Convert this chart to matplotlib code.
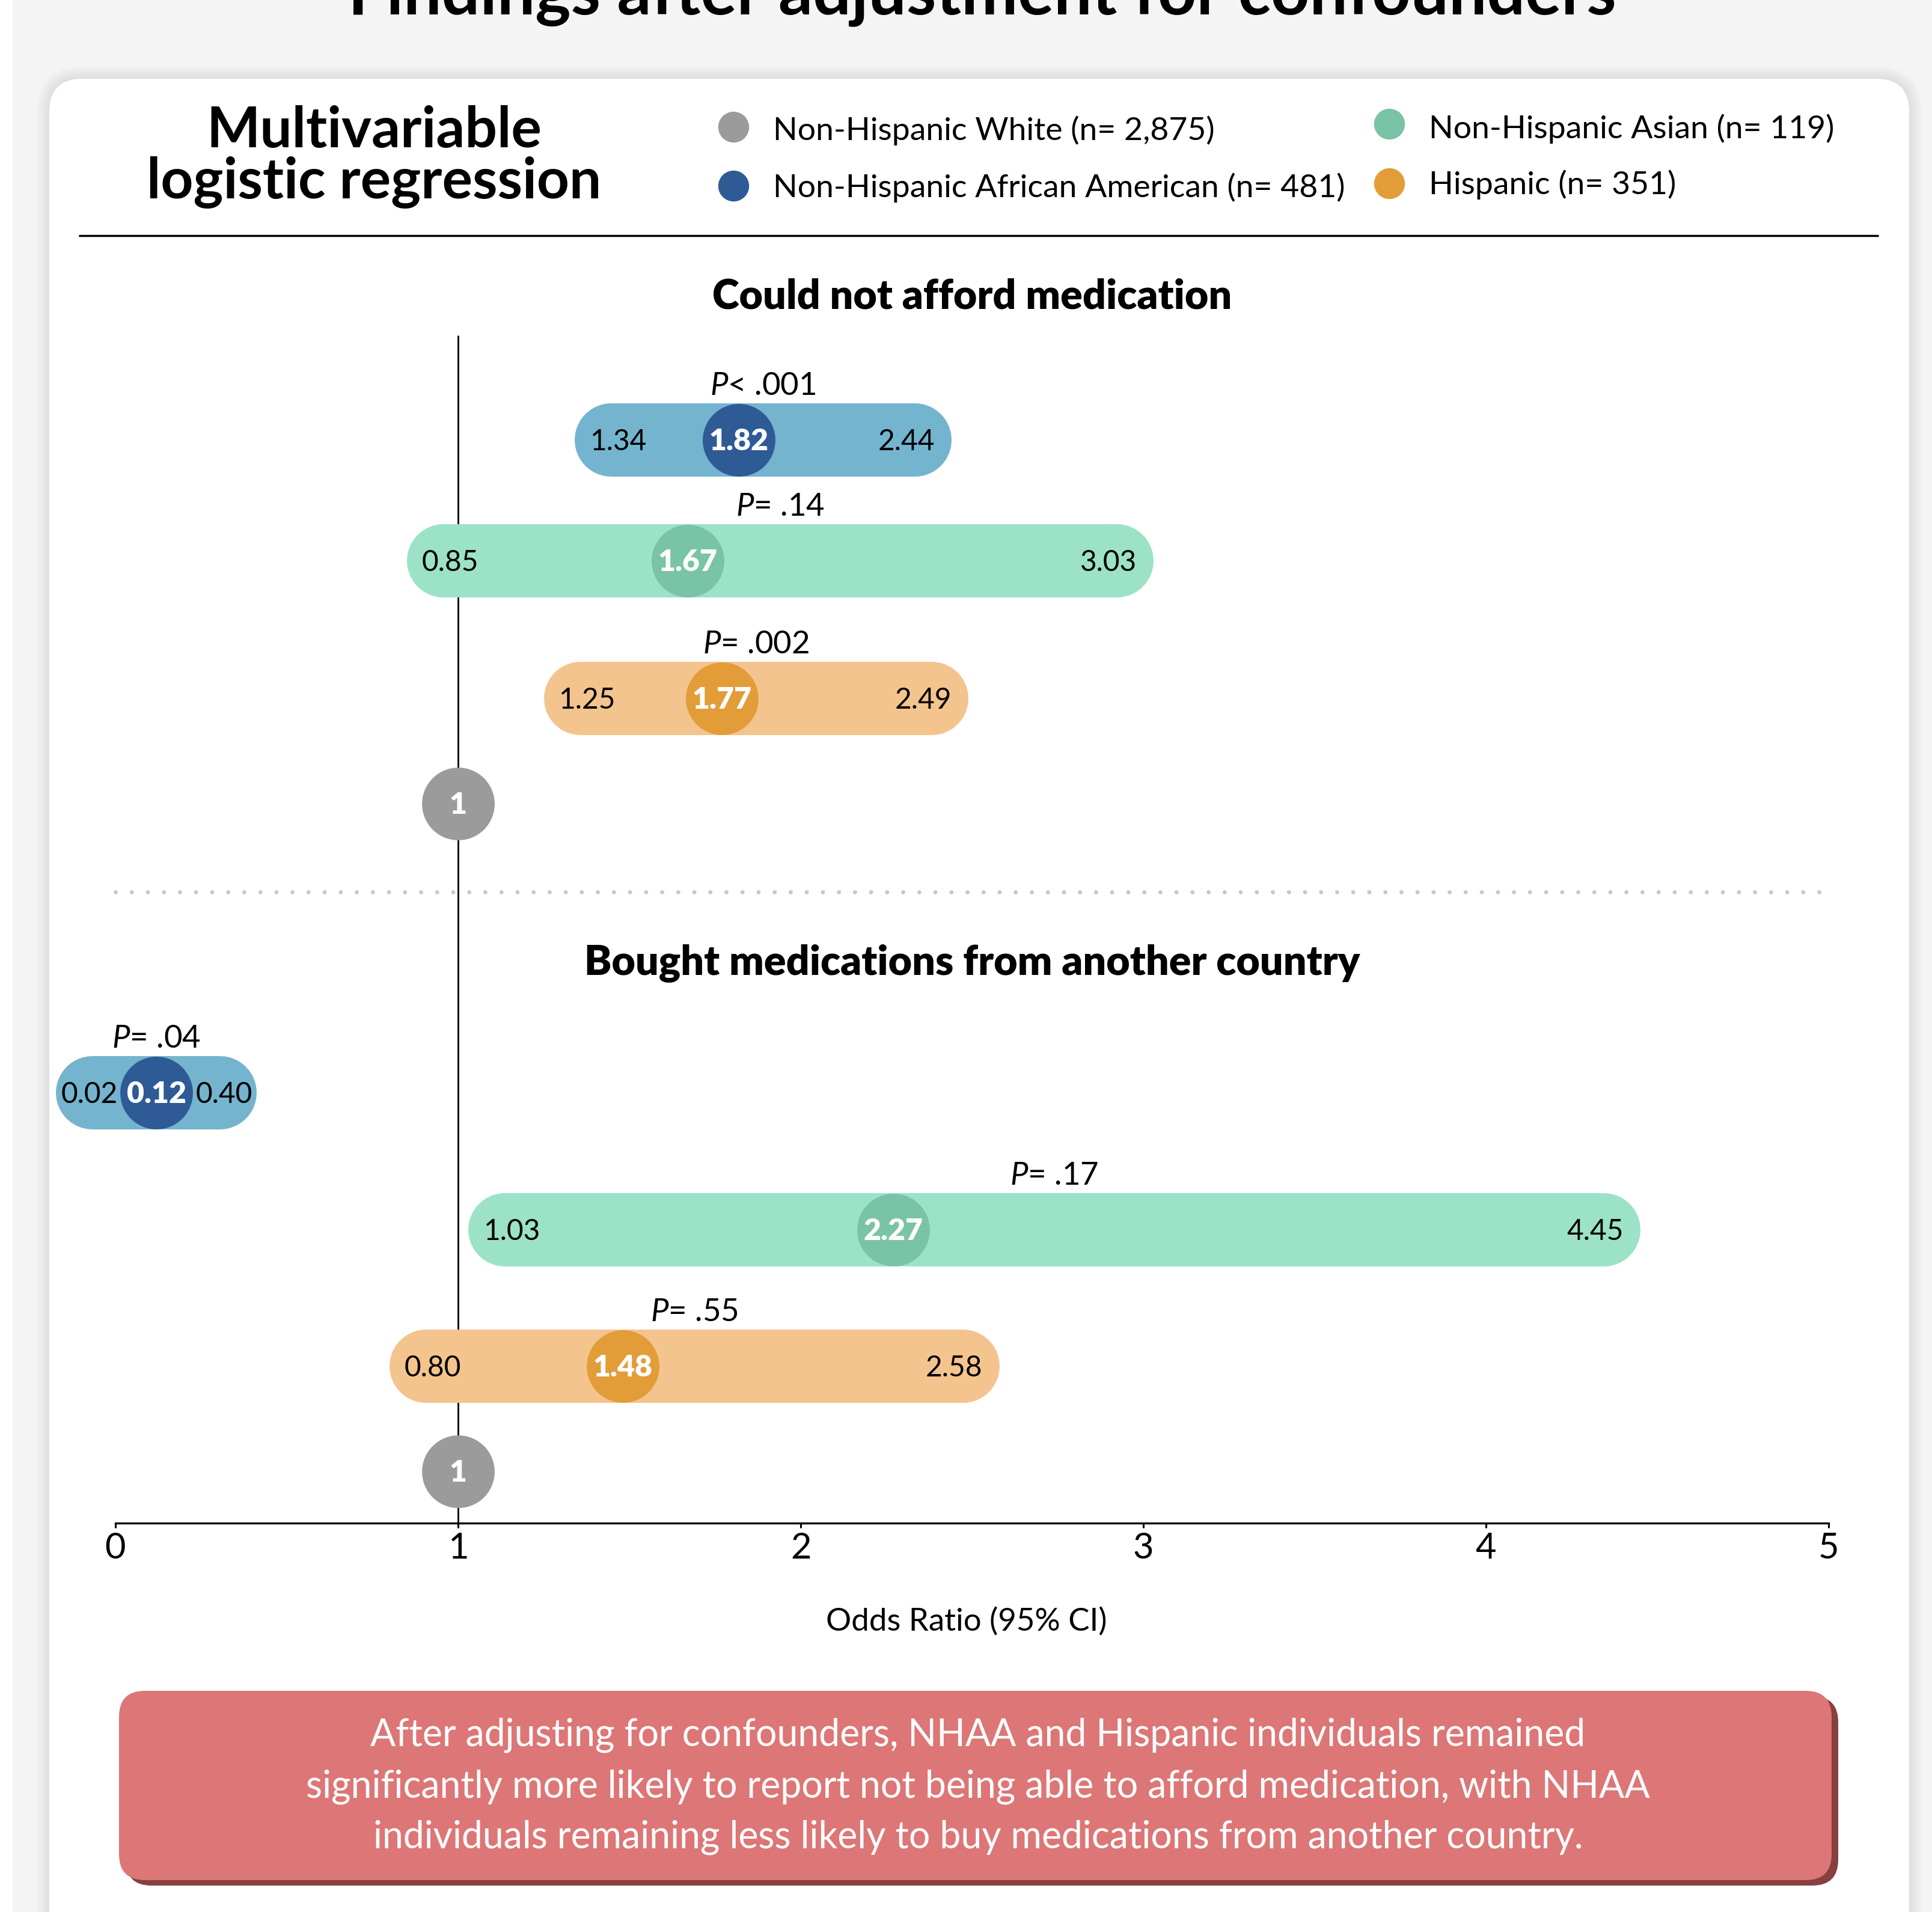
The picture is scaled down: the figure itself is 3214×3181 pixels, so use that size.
import numpy as np
import matplotlib
matplotlib.use("Agg")
import matplotlib.pyplot as plt
from matplotlib.patches import FancyBboxPatch, Rectangle

plt.rcParams['font.family'] = ['Lato', 'DejaVu Sans']
plt.rcParams['mathtext.fontset'] = 'custom'
plt.rcParams['mathtext.it'] = 'Lato:italic'
plt.rcParams['mathtext.rm'] = 'Lato'

W, H, DPI = 3214, 3181, 100

# ---- data ----
groups = ['Non-Hispanic White', 'Non-Hispanic African American',
          'Non-Hispanic Asian', 'Hispanic']
group_n = ['2,875', '481', '119', '351']
panels = ['Could not afford medication', 'Bought medications from another country']

# rows: NHAA, Asian, Hispanic  (reference = Non-Hispanic White, OR 1)
afford_or = [1.82, 1.67, 1.77]
afford_lo = [1.34, 0.85, 1.25]
afford_hi = [2.44, 3.03, 2.49]
afford_p = ['< .001', '= .14', '= .002']

abroad_or = [0.12, 2.27, 1.48]
abroad_lo = [0.02, 1.03, 0.80]
abroad_hi = [0.40, 4.45, 2.58]
abroad_p = ['= .04', '= .17', '= .55']

ref_or = 1
x_ticks = [0, 1, 2, 3, 4, 5]

summary = ["After adjusting for confounders, NHAA and Hispanic individuals remained",
           "significantly more likely to report not being able to afford medication, with NHAA",
           "individuals remaining less likely to buy medications from another country."]

# ---- styles ----
dot_cols = ['#9B9B9B', '#2E5A96', '#79C3A6', '#E39D38']
pill_cols = ['#74B4CE', '#9CE2C6', '#F4C48E']

fig = plt.figure(figsize=(W / DPI, H / DPI), dpi=DPI, facecolor='#F4F4F4')

# background layer in pixel units
bg = fig.add_axes([0, 0, 1, 1], zorder=0)
bg.set_xlim(0, W)
bg.set_ylim(H, 0)
bg.axis('off')
bg.add_patch(Rectangle((0, 0), 21, H, fc='white', ec='none'))
for i in range(7):
    p = 3 * (i + 1)
    bg.add_patch(FancyBboxPatch((82 - p, 131 - p), 3176 - 82 + 2 * p, H,
                                boxstyle='round,pad=0,rounding_size=%d' % (55 + p),
                                fc='black', ec='none', alpha=0.012))
bg.add_patch(FancyBboxPatch((82, 131), 3176 - 82, H, boxstyle='round,pad=0,rounding_size=55',
                            fc='white', ec='none'))

bg.text(1634, 23, 'Findings after adjustment for confounders', ha='center', va='baseline',
        fontsize=81, fontweight='bold')
bg.text(622, 245, 'Multivariable', ha='center', va='baseline', fontsize=68, fontweight='bold')
bg.text(622, 330, 'logistic regression', ha='center', va='baseline', fontsize=68, fontweight='bold')

# legend
leg_pos = [(1220, 211, 233), (1220, 309, 328), (2311, 206, 230), (2311, 305, 323)]
for g, n, c, (lx, ly, tb) in zip(groups, group_n, dot_cols, leg_pos):
    bg.plot(lx, ly, 'o', ms=37, mfc=c, mec='none')
    bg.text(lx + 66, tb, '%s (n= %s)' % (g, n), va='baseline', fontsize=38.5)
bg.plot([131, 3125], [392, 392], color='black', lw=2.5, solid_capstyle='butt')

# summary box
bg.add_patch(FancyBboxPatch((209, 2822), 3047 - 198, 3128 - 2813, boxstyle='round,pad=0,rounding_size=43',
                            fc='#873F3F', ec='none'))
bg.add_patch(FancyBboxPatch((198, 2813), 3047 - 198, 3128 - 2813, boxstyle='round,pad=0,rounding_size=43',
                            fc='#DD7676', ec='none'))
for i, line in enumerate(summary):
    bg.text(1627, 2905 + 85 * i, line, ha='center', va='baseline', fontsize=45,
            fontweight='normal', color='white')

# ---- main plot, y in pixel units from top ----
ax = fig.add_axes([192 / W, 1 - 2534 / H, (3042 - 192) / W, (2534 - 558) / H], zorder=1)
ax.patch.set_alpha(0)
ax.set_xlim(0, 5)
ax.set_ylim(2534, 558)
for s in ['top', 'right', 'left']:
    ax.spines[s].set_visible(False)
ax.spines['bottom'].set_linewidth(2.4)
ax.set_yticks([])
ax.set_xticks(x_ticks)
ax.set_xticklabels([str(t) for t in x_ticks])
ax.tick_params(axis='x', length=6, width=2.2, labelsize=43, pad=5)
fig.text(1608 / W, 1 - 2713 / H, 'Odds Ratio (95% CI)', ha='center', va='baseline', fontsize=38)

ax.vlines(ref_or, 558, 2534, color='black', lw=2, zorder=1)

ppu = 2850 / 5.0          # pixels per OR unit
pill_px = 122
r = pill_px / 2 / ppu
mark_r = 61
lab_w = 94

title_y = [514, 1621]
row_y = [[732, 933, 1162, 1337], [1818, 2046, 2273, 2448]]
panel_data = [(afford_or, afford_lo, afford_hi, afford_p),
              (abroad_or, abroad_lo, abroad_hi, abroad_p)]

for k, (ors, los, his, ps) in enumerate(panel_data):
    ax.text(2.5, title_y[k], panels[k], ha='center', va='baseline', fontsize=49,
            fontweight='heavy', clip_on=False)
    for i in range(3):
        o, lo, hi, y = ors[i], los[i], his[i], row_y[k][i]
        narrow = (o - lo) * ppu < mark_r + lab_w + 30
        if narrow:
            half = (mark_r + 4 + lab_w + 8) / ppu
            left, right = min(lo, o - half), max(hi, o + half)
            lx, lha = o - (mark_r + 4) / ppu, 'right'
            hx, hha = o + (mark_r + 4) / ppu, 'left'
        else:
            left, right = lo, hi
            lx, lha = lo + 25 / ppu, 'left'
            hx, hha = hi - 28 / ppu, 'right'
        ax.plot([left + r, right - r], [y, y], lw=pill_px * 0.72, color=pill_cols[i],
                solid_capstyle='round', zorder=2, clip_on=False)
        ax.plot(o, y, 'o', ms=87, mfc=dot_cols[i + 1], mec='none', zorder=3, clip_on=False)
        ax.text(o, y + 17, '%.2f' % o, ha='center', va='baseline', fontsize=36,
                fontweight='heavy', color='white', zorder=4, clip_on=False)
        ax.text(lx, y + 17, '%.2f' % lo, ha=lha, va='baseline', fontsize=34.5, zorder=4, clip_on=False)
        ax.text(hx, y + 17, '%.2f' % hi, ha=hha, va='baseline', fontsize=34.5, zorder=4, clip_on=False)
        ax.text((left + right) / 2, y - 75, r'$\mathit{P}$' + ps[i], ha='center', va='baseline',
                fontsize=38, zorder=4, clip_on=False)
    # reference group
    yr = row_y[k][3]
    ax.plot(ref_or, yr, 'o', ms=87, mfc=dot_cols[0], mec='none', zorder=3, clip_on=False)
    ax.text(ref_or, yr + 17, str(ref_or), ha='center', va='baseline', fontsize=36,
            fontweight='heavy', color='white', zorder=4, clip_on=False)

# dotted separator
ax.plot([0, 5], [1484, 1484], color='#C8C8C8', lw=5, ls=(0, (0.01, 3.84)),
        dash_capstyle='round', zorder=0, clip_on=False)

fig.savefig('out.png', dpi=DPI, facecolor=fig.get_facecolor())
